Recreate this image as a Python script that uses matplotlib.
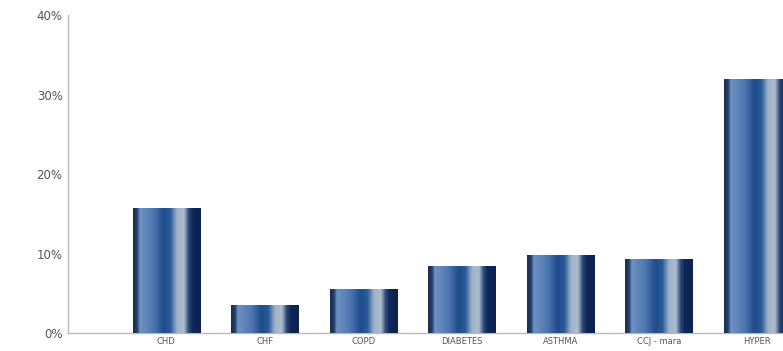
import numpy as np
import matplotlib.pyplot as plt
from matplotlib.colors import LinearSegmentedColormap

categories = ['CHD', 'CHF', 'COPD', 'DIABETES', 'ASTHMA', 'CCJ - mara', 'HYPER']
values = [15.8, 3.6, 5.6, 8.4, 9.8, 9.3, 32.0]
y_ticks = [0, 10, 20, 30, 40]
y_labels = ['0%', '10%', '20%', '30%', '40%']

# horizontal shading across each bar (left edge -> right edge)
bar_cmap = LinearSegmentedColormap.from_list('bar', [
    (0.00, '#1c2c4c'),
    (0.06, '#22406e'),
    (0.10, '#6f92c2'),
    (0.30, '#4f76b0'),
    (0.45, '#1f4c8c'),
    (0.55, '#2a5a98'),
    (0.65, '#9fb3ca'),
    (0.75, '#aebdcd'),
    (0.82, '#2c4a7a'),
    (0.88, '#0f2757'),
    (1.00, '#0c2250'),
])

fig = plt.figure(figsize=(7.83, 3.51), dpi=100)
ax = fig.add_axes([0.087, 0.051, 0.913, 0.905])

width = 0.68
x = np.arange(len(categories))
bars = ax.bar(x, values, width=width, color='none', edgecolor='none', zorder=2)

grad = np.linspace(0, 1, 256).reshape(1, -1)
for b in bars:
    x0, y0 = b.get_x(), b.get_y()
    im = ax.imshow(grad, cmap=bar_cmap, aspect='auto', interpolation='bilinear',
                   extent=[x0, x0 + b.get_width(), y0, y0 + b.get_height()], zorder=3)
    im.set_clip_path(b)

ax.set_xlim(-0.995, 6.26)
ax.set_ylim(0, 40)

ax.set_yticks(y_ticks)
ax.set_yticklabels(y_labels, fontsize=8.5, color='#555555')
ax.set_xticks(x)
ax.set_xticklabels(categories, fontsize=6, color='#555555')
ax.tick_params(axis='both', length=0, pad=4)
ax.tick_params(axis='x', pad=3)

for side in ['top', 'right']:
    ax.spines[side].set_visible(False)
for side in ['left', 'bottom']:
    ax.spines[side].set_color('#bbbbbb')
    ax.spines[side].set_linewidth(1)

fig.savefig('out.png', dpi=100)
